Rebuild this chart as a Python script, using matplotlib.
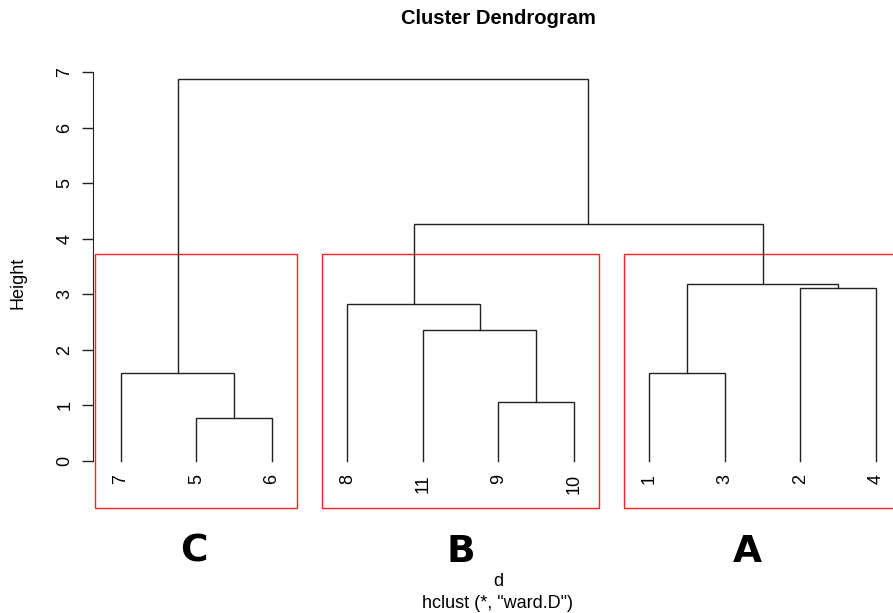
import matplotlib
matplotlib.use('Agg')
import matplotlib.pyplot as plt
from matplotlib.patches import Rectangle

plt.rcParams['font.family'] = ['Liberation Sans', 'DejaVu Sans']

# leaf labels in plotting order
leaf_labels = ['7', '5', '6', '8', '11', '9', '10', '1', '3', '2', '4']

# merges as (left child, right child, height); negatives are leaves (index into leaf_labels, 1-based)
merges = [
    (-2, -3, 0.78),     # 5 + 6
    (-6, -7, 1.07),     # 9 + 10
    (-1, 1, 1.58),      # 7 + (5,6)
    (-8, -9, 1.58),     # 1 + 3
    (-5, 2, 2.35),      # 11 + (9,10)
    (-4, 5, 2.82),      # 8 + (11,(9,10))
    (-10, -11, 3.12),   # 2 + 4
    (4, 7, 3.19),       # (1,3) + (2,4)
    (6, 8, 4.27),       # B + A
    (3, 9, 6.87),       # C + (B, A)
]

# cluster boxes: first and last leaf position, and letter
cluster_first = [1, 4, 8]
cluster_last = [3, 7, 11]
cluster_names = ['C', 'B', 'A']
name_x = [1.97, 5.5, 9.3]

W, H = 893, 613
fig = plt.figure(figsize=(W / 100, H / 100), dpi=100)

# pixel -> data mapping
def px_x(px):
    return 1 + (px - 121) / 75.5

def px_y(py):
    return (461 - py) / 55.57

left_px, right_px, top_px, bot_px = 93, 893, 50, 508
ax = fig.add_axes([left_px / W, 1 - bot_px / H, (right_px - left_px) / W, (bot_px - top_px) / H])
ax.set_xlim(px_x(left_px), px_x(right_px))
ax.set_ylim(px_y(bot_px), px_y(top_px))

lc = '#222222'
pos = {}
hgt = {}

def node_xy(k):
    if k < 0:
        return float(-k), 0.0
    return pos[k], hgt[k]

for i, (a, b, h) in enumerate(merges, start=1):
    xa, ya = node_xy(a)
    xb, yb = node_xy(b)
    ax.plot([xa, xa, xb, xb], [ya, h, h, yb], color=lc, lw=1.0, solid_joinstyle='miter')
    pos[i] = (xa + xb) / 2
    hgt[i] = h

for i, lab in enumerate(leaf_labels, start=1):
    ax.text(i, px_y(474), lab, rotation=90, ha='center', va='top', fontsize=13)

# rect.hclust style boxes
top_cut = (merges[-2][2] + merges[-3][2]) / 2
ybot = ax.get_ylim()[0]
for f, l, nm, nx in zip(cluster_first, cluster_last, cluster_names, name_x):
    x0 = f - 1 + 0.66
    x1 = l + 0.33
    ax.add_patch(Rectangle((x0, ybot), x1 - x0, top_cut - ybot, fill=False,
                           edgecolor='#ff2020', lw=1.0, clip_on=False))
    ax.text(nx, px_y(552), nm, ha='center', va='center', fontsize=27,
            fontweight='bold', family='DejaVu Sans', clip_on=False)

for s in ['top', 'right', 'bottom']:
    ax.spines[s].set_visible(False)
ax.spines['left'].set_bounds(0, 7)
ax.spines['left'].set_color(lc)
ax.set_xticks([])
ax.set_yticks(range(8))
ax.tick_params(axis='y', length=8, width=1.0, color=lc, labelsize=13, pad=6)
for t in ax.get_yticklabels():
    t.set_rotation(90)
    t.set_va('center')

fig.text(18 / W, 1 - 283 / H, 'Height', rotation=90, ha='center', va='center', fontsize=13)
fig.text(498 / W, 1 - 19 / H, 'Cluster Dendrogram', ha='center', va='center',
         fontsize=14.5, fontweight='bold')
fig.text(498 / W, 1 - 582 / H, 'd', ha='center', va='center', fontsize=13)
fig.text(498 / W, 1 - 604 / H, 'hclust (*, "ward.D")', ha='center', va='center', fontsize=13)

fig.savefig('out.png', dpi=100)
